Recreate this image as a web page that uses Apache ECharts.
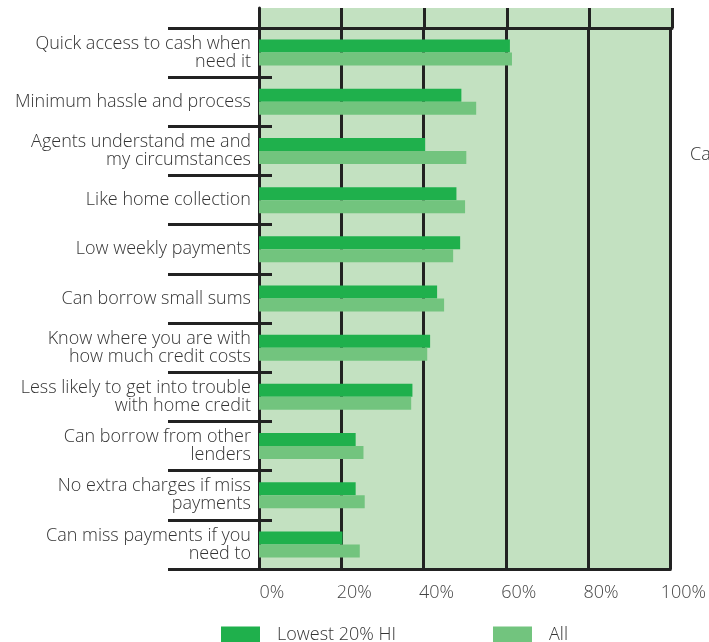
<!DOCTYPE html>
<html><head><meta charset="utf-8">
<script src="https://cdn.jsdelivr.net/npm/echarts@6/dist/echarts.min.js"></script>
<style>html,body{margin:0;padding:0;background:#fff}#c{width:709px;height:642px}</style>
</head><body><div id="c"></div>
<script>
const categories = [
  "Quick access to cash when\nneed it",
  "Minimum hassle and process",
  "Agents understand me and\nmy circumstances",
  "Like home collection",
  "Low weekly payments",
  "Can borrow small sums",
  "Know where you are with\nhow much credit costs",
  "Less likely to get into trouble\nwith home credit",
  "Can borrow from other\nlenders",
  "No extra charges if miss\npayments",
  "Can miss payments if you\nneed to"
];
const lowest20 = [61.0, 49.2, 40.4, 48.0, 48.9, 43.3, 41.6, 37.3, 23.5, 23.5, 20.3];
const allHouseholds = [61.5, 52.8, 50.4, 50.1, 47.2, 45.0, 40.9, 37.0, 25.4, 25.7, 24.5];
const xTicks = [0, 20, 40, 60, 80, 100];

const LINE = {color: '#222', width: 3};
const FONT = 'Open Sans';
const chart = echarts.init(document.getElementById('c'), null, {renderer: 'canvas'});
chart.setOption({
  animation: false,
  backgroundColor: '#fff',
  textStyle: {fontFamily: FONT},
  title: {text: 'Ca', left: 685, top: 141, textStyle: {fontSize: 18, fontWeight: 300, color: '#333', fontFamily: FONT}},
  legend: {
    left: 216, top: 621, itemWidth: 39, itemHeight: 17, itemGap: 97,
    icon: 'rect',
    textStyle: {fontSize: 18, fontWeight: 300, color: '#333', padding: [5, 0, 0, 12], fontFamily: FONT},
    data: ['Lowest 20% HI', 'All']
  },
  grid: [
    {left: 259, right: 37, top: 28, bottom: 73, show: true, backgroundColor: '#c3e1c1', borderWidth: 0},
    {left: 259, right: 37, top: 8, height: 20, show: true, backgroundColor: '#c3e1c1', borderWidth: 0}
  ],
  xAxis: [
    {gridIndex: 0, type: 'value', min: xTicks[0], max: xTicks[xTicks.length - 1], interval: 20,
     axisLine: {show: true, lineStyle: LINE}, axisTick: {show: false},
     splitLine: {show: true, lineStyle: LINE},
     axisLabel: {formatter: '{value}%', fontSize: 18, fontWeight: 300, color: '#444', margin: 15, padding: [0, 0, 0, 26], fontFamily: FONT}},
    {gridIndex: 1, type: 'value', min: xTicks[0], max: xTicks[xTicks.length - 1], interval: 20, position: 'bottom',
     axisLine: {show: true, lineStyle: LINE}, axisTick: {show: false},
     splitLine: {show: true, lineStyle: LINE}, axisLabel: {show: false}}
  ],
  yAxis: [
    {gridIndex: 0, type: 'category', inverse: true, data: categories,
     axisLine: {show: true, lineStyle: LINE},
     axisTick: {show: true, length: 91, interval: 0, lineStyle: LINE},
     axisLabel: {interval: 0, fontSize: 18, fontWeight: 300, lineHeight: 18, color: '#333', margin: 8, fontFamily: FONT, align: 'right', padding: [4, 0, 0, 0]}},
    {gridIndex: 0, type: 'category', inverse: true, data: categories, position: 'left',
     axisLine: {show: false},
     axisTick: {show: true, inside: true, length: 13, interval: 0, lineStyle: LINE},
     axisLabel: {show: false}},
    {gridIndex: 1, type: 'value', min: 0, max: 1,
     axisLine: {show: true, lineStyle: LINE}, axisTick: {show: false}, axisLabel: {show: false}, splitLine: {show: false}}
  ],
  series: [
    {name: 'Lowest 20% HI', type: 'bar', xAxisIndex: 0, yAxisIndex: 0, data: lowest20,
     barWidth: 13, barGap: '0%', itemStyle: {color: '#1fb04c'}, z: 1},
    {name: 'All', type: 'bar', xAxisIndex: 0, yAxisIndex: 0, data: allHouseholds,
     barWidth: 13, barGap: '0%', itemStyle: {color: '#72c47e'}, z: 1}
  ]
});
</script></body></html>
